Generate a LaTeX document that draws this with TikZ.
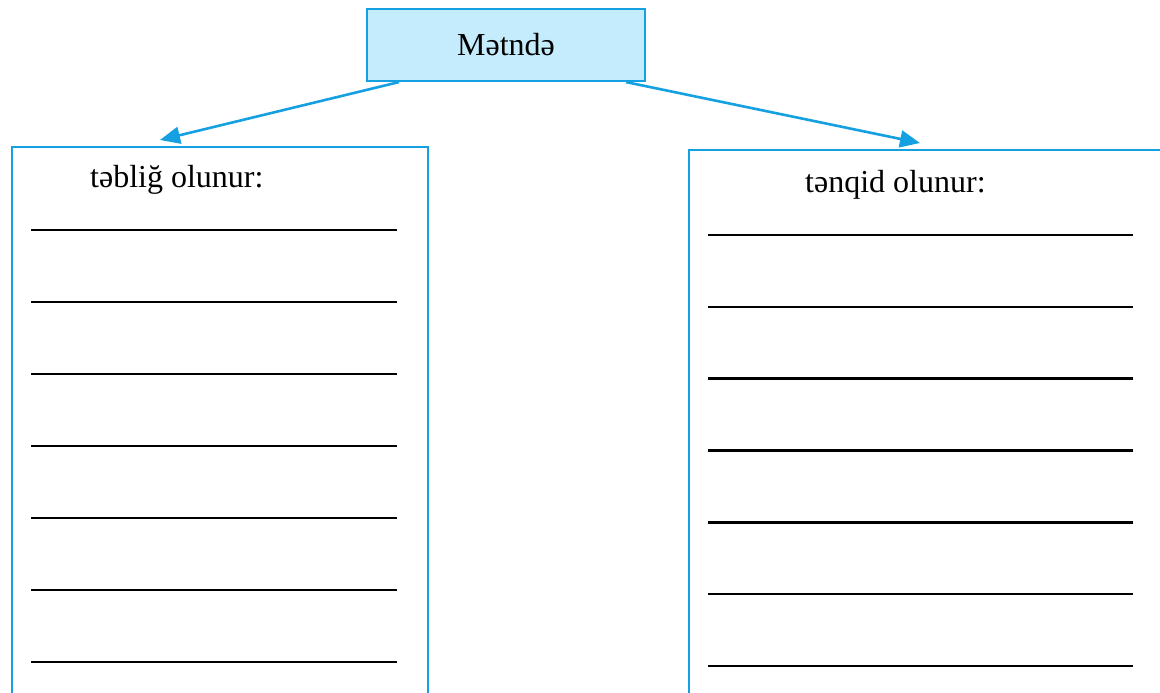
\documentclass[tikz,border=0pt]{standalone}
\usepackage{fontspec}
\setmainfont{Liberation Serif}
\usetikzlibrary{arrows.meta,calc}
\definecolor{bblue}{RGB}{20,160,225}
\definecolor{lblue}{RGB}{196,236,253}
\tikzset{
  topbox/.style={draw=bblue, fill=lblue, line width=2.2pt, minimum width=278pt, minimum height=72pt, inner sep=0pt, font=\fontsize{32}{36}\selectfont},
  panel/.style={draw=bblue, line width=2.2pt, inner sep=0pt, anchor=north west},
  lbl/.style={anchor=base west, inner sep=0pt, font=\fontsize{32}{36}\selectfont},
  arr/.style={draw=bblue, line width=2.6pt, -{Triangle[length=20pt,width=17pt]}},
  blank/.style={draw=black, line width=2.6pt}
}
\begin{document}
\begin{tikzpicture}[x=1pt,y=-1pt]
\useasboundingbox (0,0) rectangle (1160,693);
\clip (0,0) rectangle (1160,693);
\node[topbox] (T) at (506,45) {Mətndə};
\node[panel, minimum width=416pt, minimum height=600pt] (L) at (11,146) {};
\node[panel, minimum width=500pt, minimum height=600pt] (R) at (688,149) {};
\node[lbl] (Lt) at (90,187) {təbliğ olunur:};
\node[lbl] (Rt) at (805,192) {tənqid olunur:};
\coordinate (ls) at ($(T.south west)+(33,0)$);
\coordinate (rs) at ($(T.south east)+(-20,0)$);
\coordinate (lt) at ($(L.north west)+(149,-6)$);
\coordinate (rt) at ($(R.north west)+(232,-6)$);
\draw[arr] (ls) -- (lt);
\draw[arr] (rs) -- (rt);
\foreach \k in {0,...,6} {
  \draw[blank] (31,230+72*\k) -- (397,230+72*\k);
  \draw[blank] (708,235+71.8*\k) -- (1133,235+71.8*\k);
}
\end{tikzpicture}
\end{document}
